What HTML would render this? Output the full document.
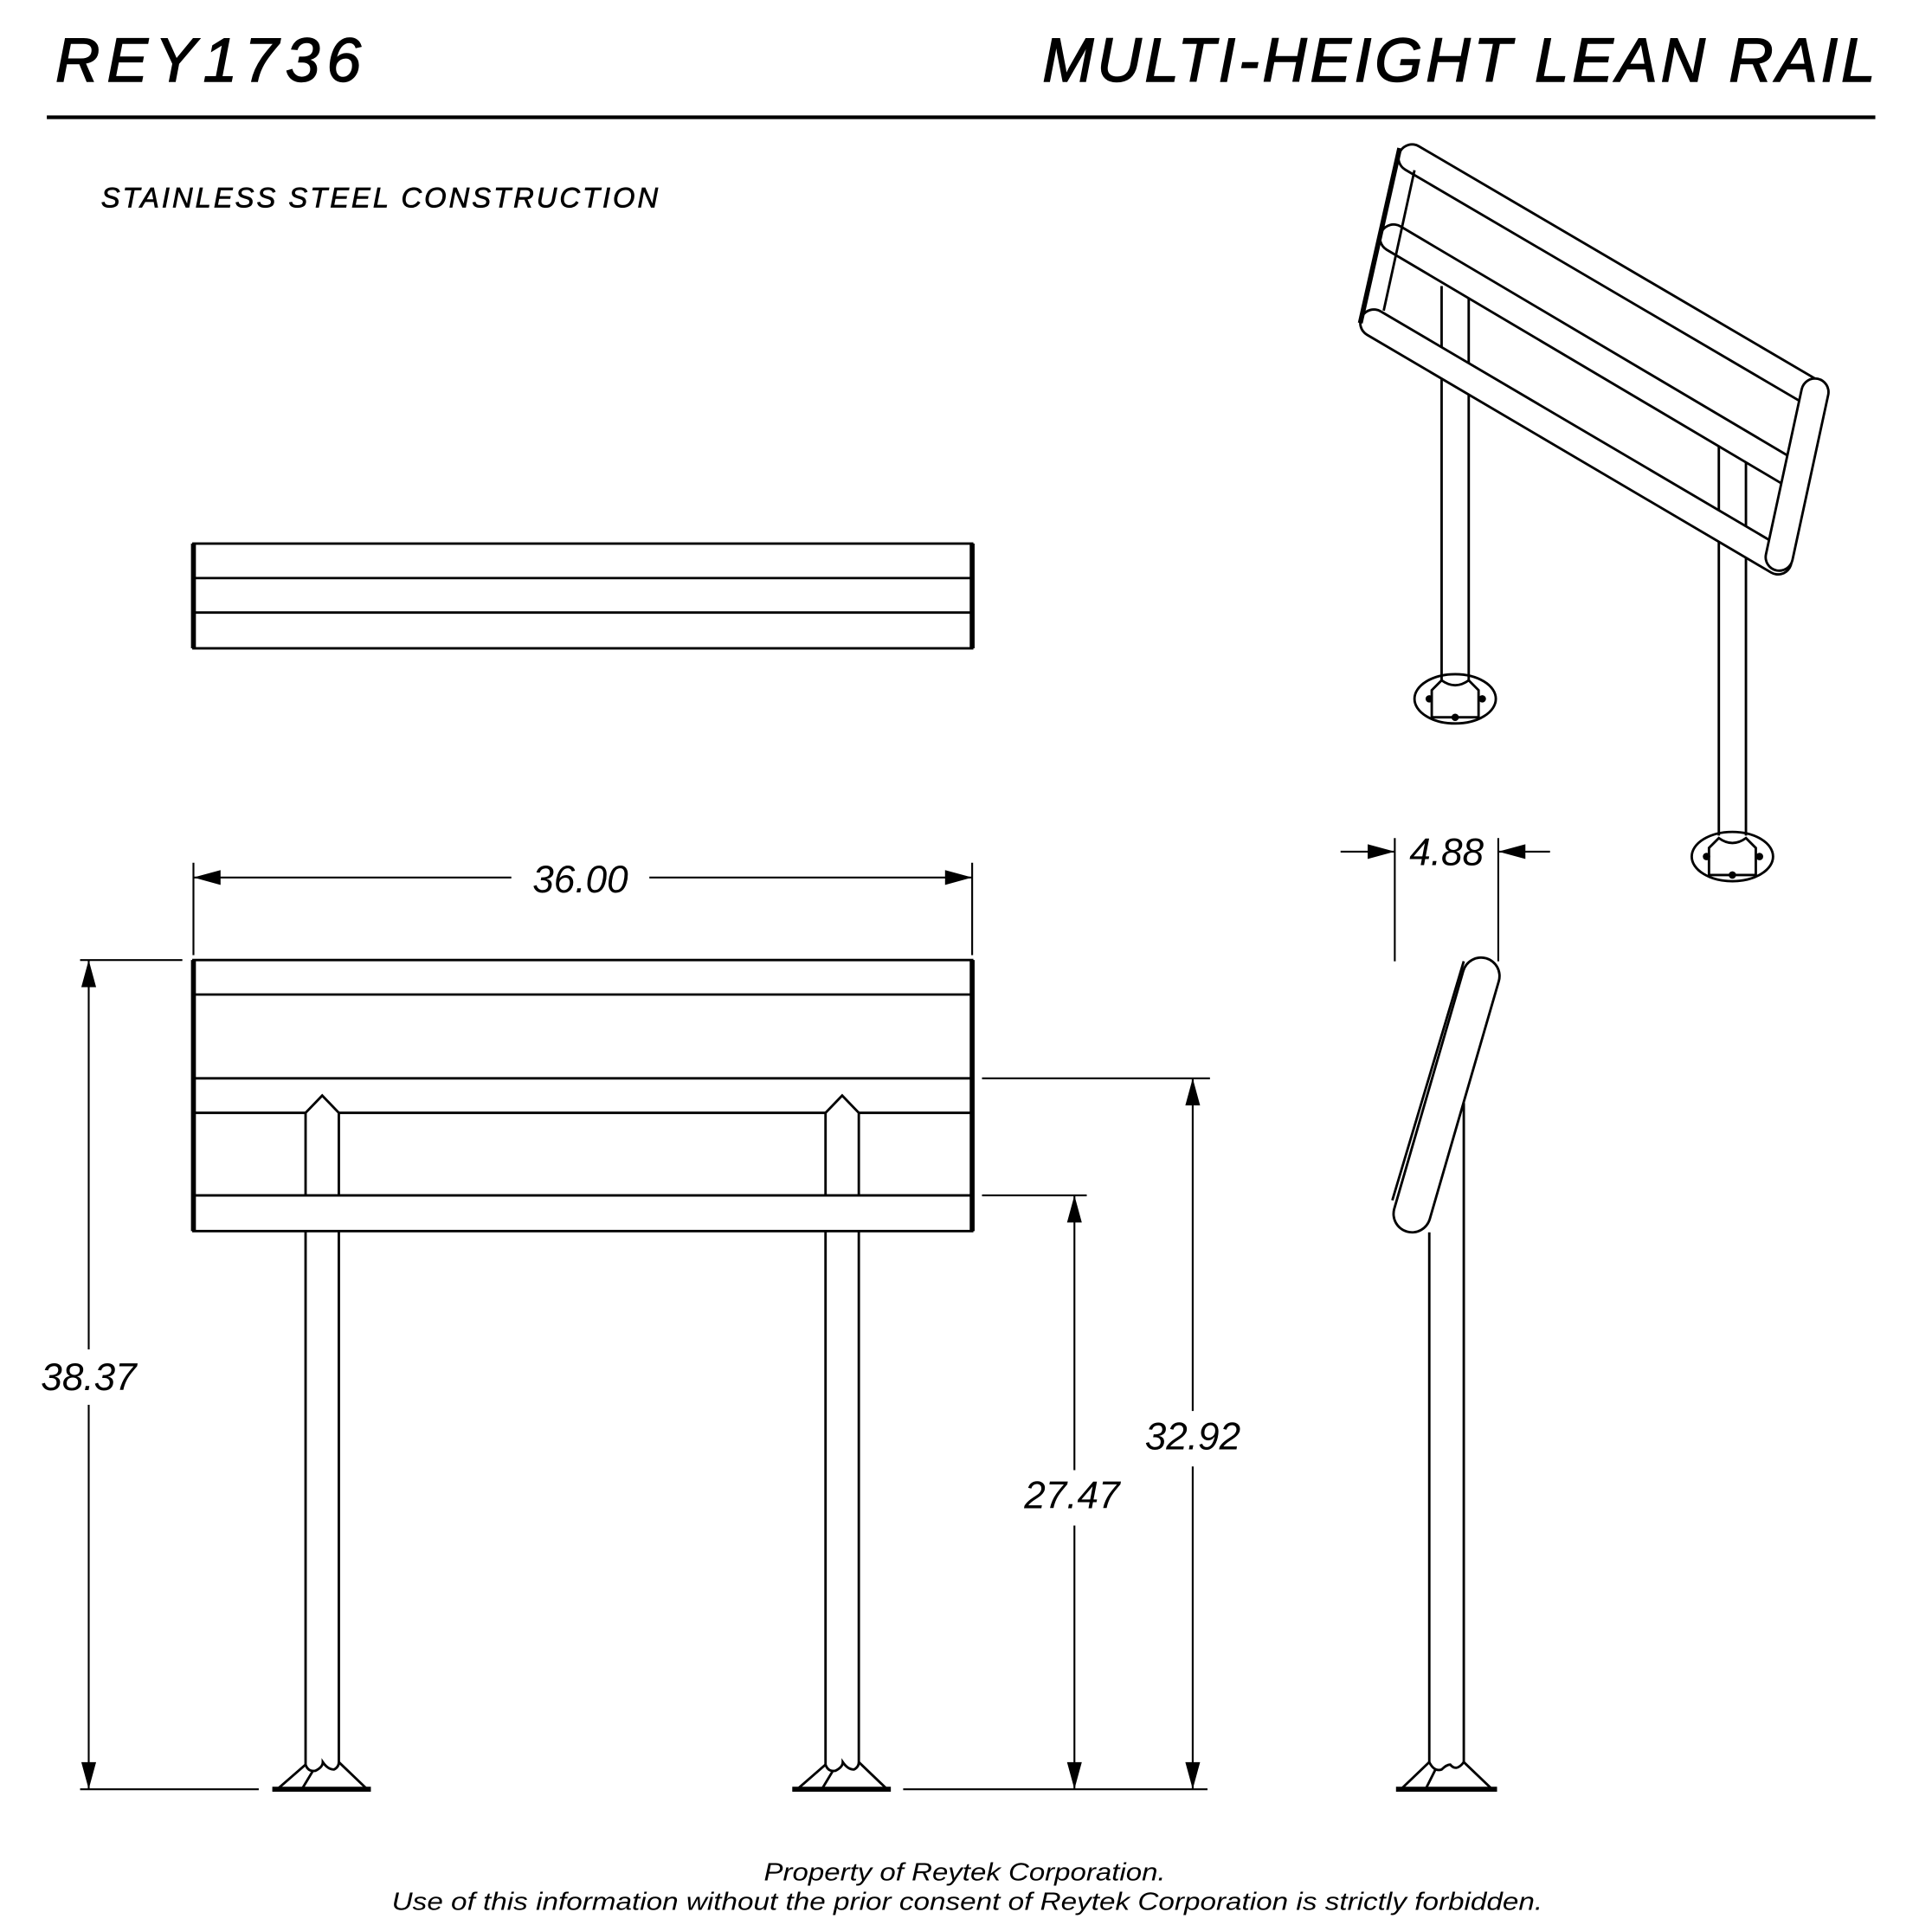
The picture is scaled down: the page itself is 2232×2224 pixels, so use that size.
<!DOCTYPE html>
<html><head><style>html,body{margin:0;padding:0;background:#fff}svg{display:block}</style></head>
<body>
<svg width="2232" height="2224" viewBox="0 0 1568 1562" xmlns="http://www.w3.org/2000/svg" font-family="Liberation Sans, sans-serif">
<rect width="1568" height="1562" fill="#fff"/>
<g font-style="italic" fill="#000">
<text x="45" y="66" font-size="50" stroke="#000" stroke-width="1" textLength="248">REY1736</text>
<text x="1522" y="66" font-size="50" stroke="#000" stroke-width="1" text-anchor="end" textLength="676">MULTI-HEIGHT LEAN RAIL</text>
<text x="82" y="168" font-size="23" stroke="#000" stroke-width="0.5" textLength="452">STAINLESS STEEL CONSTRUCTION</text>
<text x="783" y="1526" font-size="20" text-anchor="middle" textLength="326" lengthAdjust="spacingAndGlyphs">Property of Reytek Corporation.</text>
<text x="785" y="1550" font-size="20" text-anchor="middle" textLength="934" lengthAdjust="spacingAndGlyphs">Use of this information without the prior consent of Reytek Corporation is strictly forbidden.</text>
<g font-size="31">
<text x="471" y="724" text-anchor="middle">36.00</text>
<text x="72" y="1128" text-anchor="middle">38.37</text>
<text x="870" y="1224" text-anchor="middle">27.47</text>
<text x="968" y="1176" text-anchor="middle">32.92</text>
<text x="1174" y="702" text-anchor="middle">4.88</text>
</g>
</g>
<line x1="38" y1="95" x2="1522" y2="95" stroke="#000" stroke-width="3"/>
<g stroke="#000" fill="none" stroke-width="2">
<rect x="157" y="441" width="632" height="85"/>
<line x1="157" y1="469" x2="789" y2="469"/><line x1="157" y1="497" x2="789" y2="497"/>
<line x1="157" y1="441" x2="157" y2="526" stroke-width="4"/><line x1="789" y1="441" x2="789" y2="526" stroke-width="4"/>
<rect x="157" y="779" width="632" height="220"/>
<line x1="157" y1="779" x2="157" y2="999" stroke-width="4"/><line x1="789" y1="779" x2="789" y2="999" stroke-width="4"/>
<line x1="157" y1="807" x2="789" y2="807"/><line x1="157" y1="875" x2="789" y2="875"/>
<line x1="157" y1="903" x2="248" y2="903"/><line x1="275" y1="903" x2="670" y2="903"/><line x1="697" y1="903" x2="789" y2="903"/>
<line x1="157" y1="970" x2="789" y2="970"/>
<path d="M248 970 V903 L261.5 889 L275 903 V970"/>
<path d="M670 970 V903 L683.5 889 L697 903 V970"/>
<path d="M248 999 V1432 Q250 1438 256 1437 Q262 1434 262 1430 Q266 1436 271 1436 Q275 1434 275 1430 V999"/>
<path d="M670 999 V1432 Q672 1438 678 1437 Q684 1434 684 1430 Q688 1436 693 1436 Q697 1434 697 1430 V999"/>
<path d="M248 1432 L225 1452 M254 1437 L245 1452 M275 1430 L298 1452"/>
<path d="M670 1432 L647 1452 M676 1437 L667 1452 M697 1430 L720 1452"/>
<line x1="221" y1="1452" x2="301" y2="1452" stroke-width="4"/>
<line x1="643" y1="1452" x2="723" y2="1452" stroke-width="4"/>
<line x1="157" y1="700" x2="157" y2="775" stroke-width="1.5"/><line x1="789" y1="700" x2="789" y2="775" stroke-width="1.5"/>
<line x1="157" y1="712" x2="415" y2="712" stroke-width="1.5"/><line x1="527" y1="712" x2="789" y2="712" stroke-width="1.5"/>
<line x1="65" y1="779" x2="148" y2="779" stroke-width="1.5"/><line x1="65" y1="1452" x2="210" y2="1452" stroke-width="1.5"/>
<line x1="72" y1="779" x2="72" y2="1095" stroke-width="1.5"/><line x1="72" y1="1140" x2="72" y2="1452" stroke-width="1.5"/>
<line x1="797" y1="970" x2="882" y2="970" stroke-width="1.5"/><line x1="797" y1="875" x2="982" y2="875" stroke-width="1.5"/>
<line x1="733" y1="1452" x2="980" y2="1452" stroke-width="1.5"/>
<line x1="872" y1="970" x2="872" y2="1193" stroke-width="1.5"/><line x1="872" y1="1238" x2="872" y2="1452" stroke-width="1.5"/>
<line x1="968" y1="875" x2="968" y2="1145" stroke-width="1.5"/><line x1="968" y1="1190" x2="968" y2="1452" stroke-width="1.5"/>
<line x1="1132" y1="680" x2="1132" y2="780" stroke-width="1.5"/><line x1="1216" y1="680" x2="1216" y2="780" stroke-width="1.5"/>
<line x1="1088" y1="691" x2="1132" y2="691" stroke-width="1.5"/><line x1="1216" y1="691" x2="1258" y2="691" stroke-width="1.5"/>
<path d="M1160 1430 V1000 M1188 1430 V895"/>
<path d="M1160 1430 Q1164 1438 1170 1436 Q1174 1432 1177 1432 Q1182 1438 1188 1430"/>
<path d="M1160 1430 L1137 1452 M1165 1436 L1157 1452 M1188 1430 L1211 1452"/>
<line x1="1133" y1="1452" x2="1215" y2="1452" stroke-width="4"/>
<line x1="1202" y1="792" x2="1146" y2="985" stroke="#000" stroke-width="32" stroke-linecap="round"/>
<line x1="1202" y1="792" x2="1146" y2="985" stroke="#fff" stroke-width="28" stroke-linecap="round"/>
<line x1="1130" y1="974" x2="1188" y2="780" stroke-width="2"/>
<path d="M1170 232 V552 M1192 240 V552"/>
<path d="M1395 358 V678 M1417 366 V678"/>
<ellipse cx="1181" cy="567" rx="33" ry="20"/>
<ellipse cx="1406" cy="695" rx="33" ry="20"/>
<path d="M1162 582 V560 L1170 552 Q1181 560 1192 552 L1200 560 V582 Z"/>
<path d="M1387 710 V688 L1395 680 Q1406 688 1417 680 L1425 688 V710 Z"/>
</g>
<g fill="#000">
<circle cx="1181" cy="582" r="3"/><circle cx="1160" cy="567" r="3"/><circle cx="1203" cy="567" r="3"/>
<circle cx="1406" cy="710" r="3"/><circle cx="1385" cy="695" r="3"/><circle cx="1428" cy="695" r="3"/>
<path d="M157 712 L179 706 L179 718Z M789 712 L767 706 L767 718Z"/>
<path d="M72 779 L66 801 L78 801Z M72 1452 L66 1430 L78 1430Z"/>
<path d="M872 970 L866 992 L878 992Z M872 1452 L866 1430 L878 1430Z"/>
<path d="M968 875 L962 897 L974 897Z M968 1452 L962 1430 L974 1430Z"/>
<path d="M1132 691 L1110 685 L1110 697Z M1216 691 L1238 685 L1238 697Z"/>
</g>
<g stroke-linecap="round">
<line x1="1146" y1="128" x2="1470" y2="318" stroke="#000" stroke-width="24"/>
<line x1="1146" y1="128" x2="1470" y2="318" stroke="#fff" stroke-width="20"/>
<line x1="1131" y1="193" x2="1452" y2="383" stroke="#000" stroke-width="24"/>
<line x1="1131" y1="193" x2="1452" y2="383" stroke="#fff" stroke-width="20"/>
<line x1="1115" y1="262" x2="1443" y2="455" stroke="#000" stroke-width="24"/>
<line x1="1115" y1="262" x2="1443" y2="455" stroke="#fff" stroke-width="20"/>
<line x1="1473" y1="318" x2="1444" y2="452" stroke="#000" stroke-width="24"/>
<line x1="1473" y1="318" x2="1444" y2="452" stroke="#fff" stroke-width="20"/>
</g>
<g stroke="#000" fill="none" stroke-width="2">
<line x1="1136" y1="120" x2="1104" y2="262" stroke-width="4"/>
<line x1="1148" y1="138" x2="1123" y2="252"/>
</g>
</svg>
</body></html>
